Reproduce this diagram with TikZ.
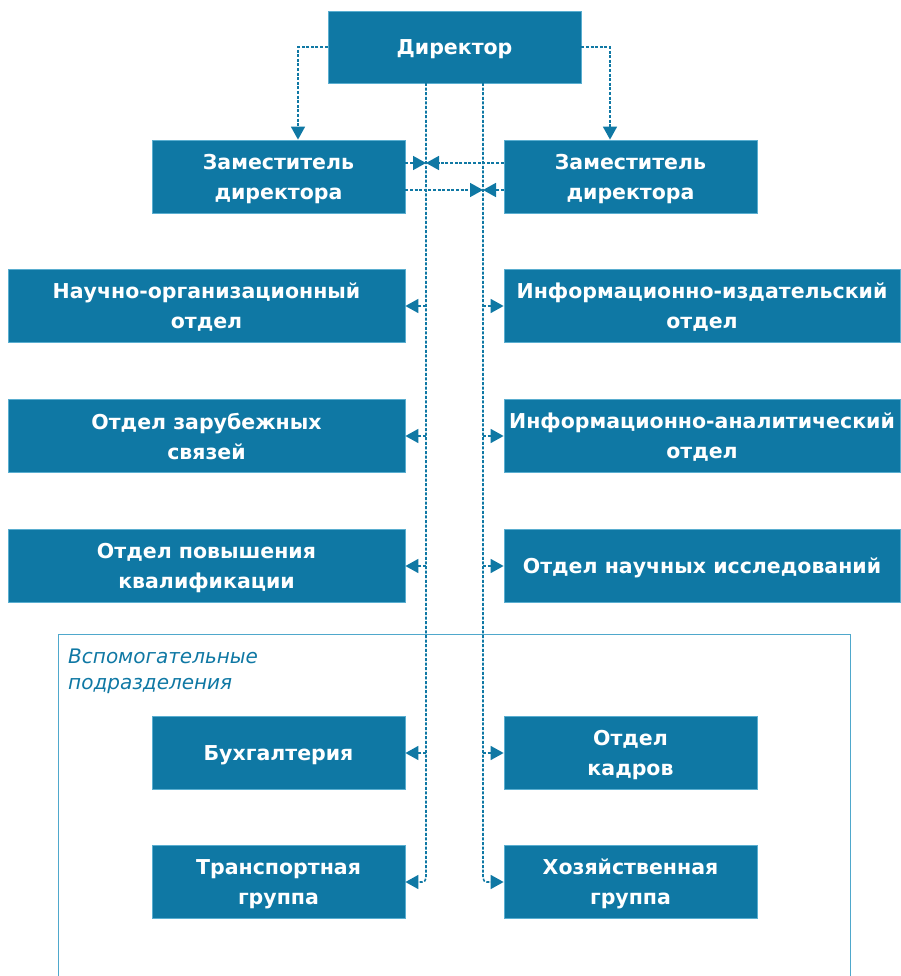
\documentclass[tikz,border=0pt]{standalone}
\usepackage{fontspec}
\setmainfont{DejaVu Sans}
\usetikzlibrary{arrows.meta}
\definecolor{boxc}{HTML}{0F78A4}
\definecolor{edgec}{HTML}{5AAED0}
\definecolor{framec}{HTML}{4FA8CC}
\begin{document}
\begin{tikzpicture}[x=1pt,y=-1pt,
  box/.style={fill=boxc, draw=edgec, line width=0.8pt, text=white,
    font=\fontsize{20.5}{30}\selectfont\bfseries, align=center, inner sep=0pt, text depth=0pt},
  sbox/.style={box, minimum width=253pt, minimum height=73pt},
  wboxL/.style={box, minimum width=397pt, minimum height=73pt},
  wboxR/.style={box, minimum width=396pt, minimum height=73pt},
  conn/.style={draw=boxc, line width=1.6pt, dash pattern=on 3pt off 1.6pt},
  tip/.style={-{Triangle[length=13pt,width=14pt]}}
]
\useasboundingbox (0,0) rectangle (900,976);
% frame
\draw[framec, line width=1.2pt] (58.5,976) -- (58.5,634.5) -- (850.5,634.5) -- (850.5,976);
\node[anchor=north west, align=left, text=boxc, inner sep=0pt,
  font=\fontsize{20}{26}\selectfont\itshape] (aux) at (68,649) {Вспомогательные\\подразделения};

% boxes
\node[sbox, minimum height=72pt] (dir) at (454.5,47) {Директор};
\node[sbox] (depL) at (278.5,176.5) {Заместитель\\директора};
\node[sbox] (depR) at (630.5,176.5) {Заместитель\\директора};
\node[wboxL] (l1) at (206.5,306) {Научно-организационный\\отдел};
\node[wboxR] (r1) at (702,306) {Информационно-издательский\\отдел};
\node[wboxL] (l2) at (206.5,436) {Отдел зарубежных\\связей};
\node[wboxR] (r2) at (702,436) {Информационно-аналитический\\отдел};
\node[wboxL] (l3) at (206.5,566) {Отдел повышения\\квалификации};
\node[wboxR] (r3) at (702,566) {Отдел научных исследований};
\node[sbox] (l4) at (278.5,753) {Бухгалтерия};
\node[sbox] (r4) at (630.5,753) {Отдел\\кадров};
\node[sbox] (l5) at (278.5,882) {Транспортная\\группа};
\node[sbox] (r5) at (630.5,882) {Хозяйственная\\группа};

% trunk coordinates
\coordinate (tL) at (426,83);
\coordinate (tR) at (483,83);
\coordinate (dl) at (298,47);
\coordinate (dr) at (610,47);

% director to deputies
\draw[conn, tip] (dir.west |- dl) -| (depL.north -| dl);
\draw[conn, tip] (dir.east |- dr) -| (depR.north -| dr);

% trunks
\draw[conn, tip, rounded corners=4pt] (tL) |- (l5.east);
\draw[conn, tip, rounded corners=4pt] (tR) |- (r5.west);

% deputies to trunks
\coordinate (yA) at (0,163);
\coordinate (yB) at (0,190);
\draw[conn, tip] (depL.east |- yA) -- (tL |- yA);
\draw[conn, tip] (depR.west |- yA) -- (tL |- yA);
\draw[conn, tip] (depL.east |- yB) -- (tR |- yB);
\draw[conn, tip] (depR.west |- yB) -- (tR |- yB);

% trunk to departments
\foreach \n in {l1,l2,l3,l4}{\draw[conn, tip] (tL |- \n.east) -- (\n.east);}
\foreach \n in {r1,r2,r3,r4}{\draw[conn, tip] (tR |- \n.west) -- (\n.west);}
\end{tikzpicture}
\end{document}
